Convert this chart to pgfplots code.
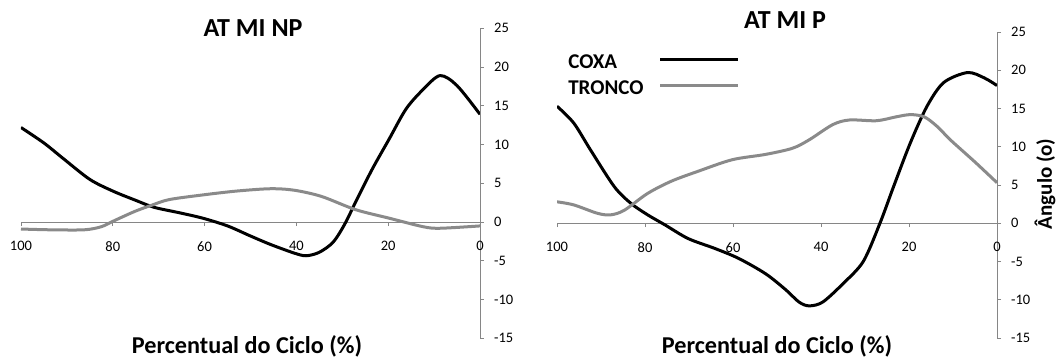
\documentclass[border=0pt]{standalone}
\usepackage{fontspec}
\setmainfont{Carlito}
\usepackage{pgfplots}
\pgfplotsset{compat=1.18}
\definecolor{cgray}{RGB}{138,138,138}
\definecolor{agray}{RGB}{134,134,134}

\pgfplotsset{
 myax/.style={
  scale only axis, anchor=south west,
  xmin=0, xmax=100, ymin=-15, ymax=25, x dir=reverse,
  axis x line=middle, axis y line=right,
  axis line style={agray, line width=0.9bp, -},
  xtick={0,20,40,60,80,100}, ytick={-15,-10,-5,0,5,10,15,20,25},
  tick style={agray, line width=0.9bp},
  tick align=outside, major tick length=4bp,
  hide obscured x ticks=false, hide obscured y ticks=false,
  /pgf/number format/assume math mode=true,
  tick label style={font=\fontsize{14.5bp}{16bp}\selectfont, inner sep=0pt},
  xticklabel style={anchor=north, yshift=-15bp},
  yticklabel style={anchor=west, xshift=10bp},
 },
 coxa/.style={black, line width=3bp, smooth, line join=round, no marks},
 tronco/.style={cgray, line width=3bp, smooth, line join=round, no marks},
}

\begin{document}
\begin{tikzpicture}
\begin{axis}[myax, at={(21bp,19.7bp)}, width=459bp, height=310bp]
\addplot[coxa] coordinates {
(100,12.2) (95,10.2) (90.6,8.1) (85,5.5) (80,4.0) (75,2.8) (71,1.9) (65.5,1.2)
(60.4,0.5) (55,-0.5) (50,-1.8) (45.6,-2.9) (40.5,-4.0) (37.9,-4.35) (35,-3.9)
(32,-2.6) (29.5,-0.3) (27,2.7) (23.5,6.8) (19.8,10.7) (16.1,14.6) (12.4,17.1)
(8.7,18.9) (5,17.6) (0,13.9)};
\addplot[tronco] coordinates {
(100,-0.9) (93.6,-1.0) (86.2,-1.0) (82.5,-0.6) (79.6,0.2) (75.1,1.4) (71.4,2.2)
(67.7,2.9) (60.4,3.5) (53,4.0) (45.6,4.3) (40.4,4.1) (34.5,3.3) (27.1,1.6)
(19.8,0.5) (12.4,-0.6) (8.7,-0.8) (0,-0.5)};
\end{axis}

\begin{axis}[myax, at={(557bp,20bp)}, width=440bp, height=306bp,
  legend plot pos=right, legend cell align=left,
  legend image code/.code={\draw[#1] (0bp,3bp) -- (78bp,3bp);},
  legend style={draw=none, fill=none, inner sep=0pt, at={(rel axis cs:0.023,0.93)}, anchor=north west,
    font=\bfseries\fontsize{21bp}{25bp}\selectfont, row sep=9bp, column sep=14bp,
    nodes={inner sep=1bp}}]
\addplot[coxa] coordinates {
(100,15.3) (96.2,13.1) (92.4,9.6) (87,4.8) (83.2,2.6) (79.4,1.1) (75.5,-0.2)
(70.2,-2.0) (64.1,-3.3) (58.7,-4.6) (52.6,-6.6) (48,-8.7) (45,-10.3) (42.7,-10.8)
(39.6,-10.3) (35,-7.9) (30.4,-5.0) (26.6,0) (23.5,4.8) (19.7,10.5) (15.9,15.3)
(12.1,18.4) (6.7,19.7) (2.9,19.0) (0,18.0)};
\addlegendentry{COXA}
\addplot[tronco] coordinates {
(100,2.8) (96.2,2.4) (90.8,1.3) (87.8,1.1) (84.7,1.7) (79.4,3.9) (74,5.5)
(67.9,6.8) (60.2,8.3) (52.6,9.0) (46.5,9.8) (42.7,10.9) (37.3,12.9) (33.5,13.5)
(27.4,13.4) (23,13.9) (19.7,14.2) (16.5,13.9) (13.5,12.6) (10.6,10.9) (5,8.0) (0,5.3)};
\addlegendentry{TRONCO}
\end{axis}

\node[font=\bfseries\fontsize{26bp}{30bp}\selectfont, inner sep=0pt] at (253bp,329.5bp) {AT MI NP};
\node[font=\bfseries\fontsize{26bp}{30bp}\selectfont, inner sep=0pt] at (785bp,337.5bp) {AT MI P};
\node[font=\bfseries\fontsize{24.2bp}{28bp}\selectfont, inner sep=0pt, anchor=base] at (247bp,5bp) {Percentual do Ciclo (\%)};
\node[font=\bfseries\fontsize{24.2bp}{28bp}\selectfont, inner sep=0pt, anchor=base] at (777bp,5bp) {Percentual do Ciclo (\%)};
\node[font=\bfseries\fontsize{21bp}{25bp}\selectfont, inner sep=0pt, rotate=90] at (1045bp,174bp) {Ângulo (o)};
\pgfresetboundingbox
\path (0,0) rectangle (1058bp,358bp);
\end{tikzpicture}
\end{document}
